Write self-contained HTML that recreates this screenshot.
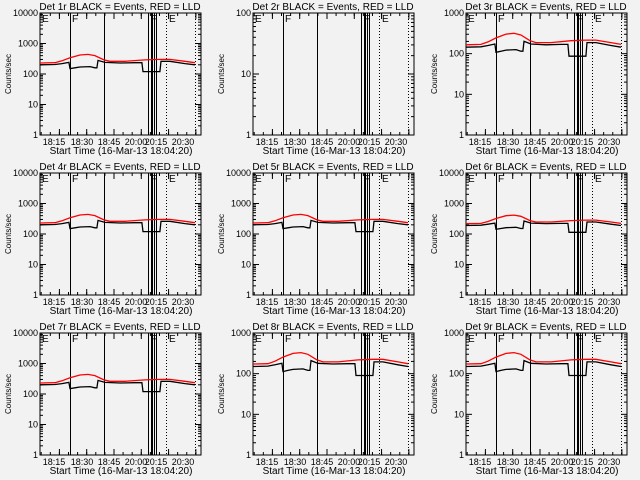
<!DOCTYPE html>
<html><head><meta charset="utf-8"><style>
html,body{margin:0;padding:0;background:#f2f2f2;}
svg{display:block;font-family:"Liberation Sans",sans-serif;}
</style></head><body>
<svg id="chart" width="640" height="480" viewBox="0 0 640 480" xmlns="http://www.w3.org/2000/svg"></svg>
<script>
// time in minutes from 18:04:20
const blackTimes = [0,8.2,12.1,15.9,16.5,19.2,22,27.5,30.2,31.3,31.9,35.7,44,52.2,56,56.6,65.9,66.5,71.4,79.7,85.2];
const blackValues = [200,205,220,240,150,160,170,175,160,160,280,240,230,235,235,120,120,260,260,220,200];
const redTimes = [0,8.2,12.1,16.5,22,26.4,30.2,35.2,38.5,46.7,57.7,65.9,71.4,79.7,85.2];
const redValues = [230,235,270,340,420,440,400,290,260,260,290,300,300,260,235];
const panelNames = ["1r","2r","3r","4r","5r","6r","7r","8r","9r"];
const panelScale = [1,0,0.72,1,1,0.95,1,0.75,0.75];
const panelYMax = [10000,100,1000,10000,10000,10000,10000,1000,1000];
const tickLabels = ["18:15","18:30","18:45","20:00","20:15","20:30"];
const tickLabelX = [54,82,109,136,156,183];
const timeSpan = 88.5;

const svg = document.getElementById('chart');
const NS = "http://www.w3.org/2000/svg";
function mk(tag, attrs, parent){const e=document.createElementNS(NS,tag);for(const k in attrs)e.setAttribute(k,attrs[k]);(parent||svg).appendChild(e);return e;}

panelNames.forEach((nm,i)=>{
  const cx=(i%3)*213, cy=Math.floor(i/3)*160;
  const g=mk('g',{});
  
  
  const x0=cx+40,x1=cx+201,y0=cy+13,y1=cy+135;
  const ymax=panelYMax[i], dec=Math.log10(ymax);
  const xs=t=>x0+t/timeSpan*(x1-x0);
  const ys=v=>y1-Math.log10(v)/dec*(y1-y0);
  const t=mk('text',{x:cx+120,y:cy+10,'text-anchor':'middle','font-size':'10'},g);
  t.textContent='Det '+nm+' BLACK = Events, RED = LLD';
  
  
  const yl=mk('text',{x:0,y:0,'text-anchor':'middle','font-size':'8',transform:`translate(${cx+11},${cy+74}) rotate(-90)`},g);
  yl.textContent='Counts/sec';
  
  
  const xt=mk('text',{x:cx+121,y:cy+154,'text-anchor':'middle','font-size':'10'},g);
  xt.textContent='Start Time (16-Mar-13 18:04:20)';
  
  
  tickLabels.forEach((lb,k)=>{
    const e=mk('text',{x:cx+tickLabelX[k],y:cy+145,'text-anchor':'middle','font-size':'9'},g);
    e.textContent=lb;
    
    
  });
  for(let d=0;d<=dec;d++){
    const v=Math.pow(10,d),y=ys(v);
    const e=mk('text',{x:x0-2,y:y+3,'text-anchor':'end','font-size':'9'},g);
    e.textContent=String(v);
    
    
    mk('line',{x1:x0,x2:x0+6,y1:y,y2:y,stroke:'#000'},g);
    mk('line',{x1:x1,x2:x1-6,y1:y,y2:y,stroke:'#000'},g);
    if(d<dec) for(let m=2;m<10;m++){const ym=ys(v*m);
      mk('line',{x1:x0,x2:x0+3,y1:ym,y2:ym,stroke:'#000'},g);
      mk('line',{x1:x1,x2:x1-3,y1:ym,y2:ym,stroke:'#000'},g);}
  }
  for(let k=0;k<6;k++){const x=xs(10.67+15*k);
    if(x>x1)break;
    mk('line',{x1:x,x2:x,y1:y1,y2:y1-6,stroke:'#000'},g);
    mk('line',{x1:x,x2:x,y1:y0,y2:y0+6,stroke:'#000'},g);}
  for(let m=0.67;m<timeSpan;m+=5){const x=xs(m);
    mk('line',{x1:x,x2:x,y1:y1,y2:y1-3,stroke:'#000'},g);
    mk('line',{x1:x,x2:x,y1:y0,y2:y0+3,stroke:'#000'},g);}
  [[70.5,1],[104.5,1],[148.5,1],[152,2],[154.5,1],[156.5,1]].forEach(([px,w])=>mk('line',{x1:cx+px,x2:cx+px,y1:y0,y2:y1,stroke:'#000','stroke-width':w},g));
  [166.5,195.5].forEach(px=>mk('line',{x1:cx+px,x2:cx+px,y1:y0,y2:y1,stroke:'#000','stroke-dasharray':'1,2'},g));
  [['E',42],['F',72],['F',151],['E',169]].forEach(([c,px])=>{const e=mk('text',{x:cx+px,y:y0+9,'font-size':'10'},g);e.textContent=c;
    
    });
  const b=mk('rect',{x:x0,y:y0,width:x1-x0,height:y1-y0,fill:'none',stroke:'#000'},g);
  
  
  const s=panelScale[i];
  if(s>0){
    const step=(ts,vs)=>{let d='';ts.forEach((tt,k)=>{const x=xs(tt),y=ys(vs[k]*s);d+=(k?'L':'M')+x.toFixed(1)+','+y.toFixed(1);});return d;};
    const r=mk('path',{d:step(redTimes,redValues),fill:'none',stroke:'#ff0000','stroke-width':1.3},g);
    
    
    const k=mk('path',{d:step(blackTimes,blackValues),fill:'none',stroke:'#000','stroke-width':1.3},g);
    
    
  }
});
</script>
</body></html>
